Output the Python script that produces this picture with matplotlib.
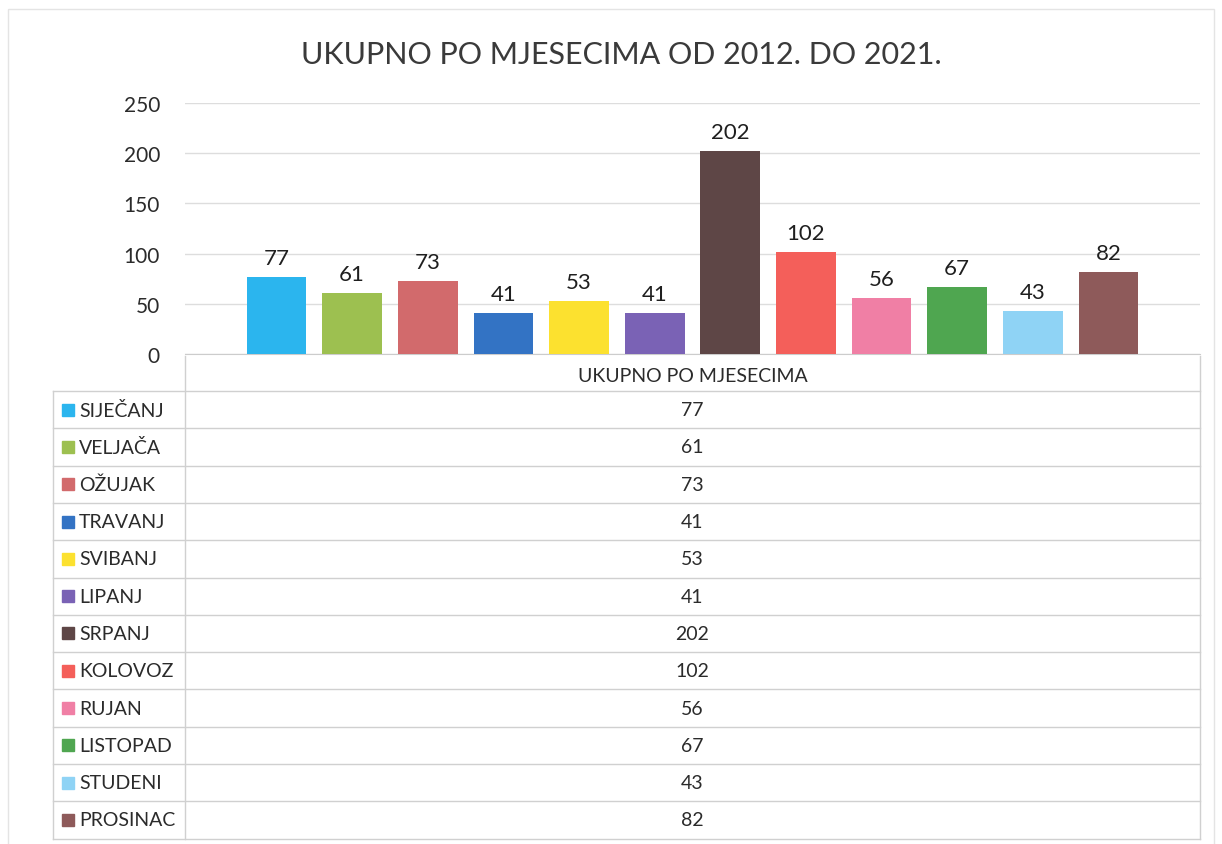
import matplotlib.pyplot as plt
from matplotlib.patches import Rectangle
import numpy as np

plt.rcParams['font.family'] = ['Lato', 'DejaVu Sans']

months = ['SIJEČANJ', 'VELJAČA', 'OŽUJAK', 'TRAVANJ', 'SVIBANJ', 'LIPANJ',
          'SRPANJ', 'KOLOVOZ', 'RUJAN', 'LISTOPAD', 'STUDENI', 'PROSINAC']
values = [77, 61, 73, 41, 53, 41, 202, 102, 56, 67, 43, 82]
colors = ['#2BB5EE', '#9DC050', '#D26A6C', '#3373C4', '#FCE12F', '#7A62B5',
          '#5E4646', '#F45F5A', '#F07FA5', '#4FA650', '#8FD3F5', '#8E5A5A']
series_name = 'UKUPNO PO MJESECIMA'
title = 'UKUPNO PO MJESECIMA OD 2012. DO 2021.'
yticks = [0, 50, 100, 150, 200, 250]

W, H = 1222, 845
fig = plt.figure(figsize=(W / 100, H / 100), dpi=100)
fig.patch.set_facecolor('white')

# chart area (pixel layout)
x0, x1, ytop, ybot = 185, 1200, 104, 355
ax = fig.add_axes([x0 / W, 1 - ybot / H, (x1 - x0) / W, (ybot - ytop) / H])
x = np.arange(len(values))
ax.bar(x, values, width=0.79, color=colors, zorder=3)
ax.set_xlim(-1.21, 12.21)
ax.set_ylim(0, 250)
ax.set_yticks(yticks)
ax.tick_params(axis='y', length=0, pad=18, labelsize=15, labelcolor='#2b2b2b')
ax.set_xticks([])
ax.grid(axis='y', color='#DDDDDD', linewidth=1, zorder=0)
for s in ['top', 'right', 'left']:
    ax.spines[s].set_visible(False)
ax.spines['bottom'].set_color('#CCCCCC')
for xi, v in zip(x, values):
    ax.text(xi, v + 9, str(v), ha='center', va='bottom', fontsize=16, color='#1f1f1f')

# title
fig.text(621 / W, 1 - 55 / H, title, ha='center', va='center', fontsize=22, color='#3a3a3a')

# data table drawn in pixel coords
tb = fig.add_axes([0, 0, 1, 1], zorder=-1)
tb.set_xlim(0, W)
tb.set_ylim(H, 0)
tb.axis('off')
tb.patch.set_alpha(0)

lc = '#D0D0D0'
tl, row_h, hdr_top = 53, 37.3, 357
first = hdr_top + 35
n = len(months)
bottom = first + n * row_h
# header cell
tb.plot([x0, x0], [hdr_top, bottom], color=lc, lw=1)
tb.plot([x1, x1], [hdr_top, bottom], color=lc, lw=1)
tb.plot([tl, tl], [first, bottom], color=lc, lw=1)
tb.text((x0 + x1) / 2, (hdr_top + first) / 2 + 2, series_name, ha='center', va='center',
        fontsize=14, color='#2b2b2b')
for i in range(n + 1):
    yy = first + i * row_h
    tb.plot([tl, x1], [yy, yy], color=lc, lw=1)
for i, (m, v, c) in enumerate(zip(months, values, colors)):
    yc = first + (i + 0.5) * row_h
    tb.add_patch(Rectangle((62, yc - 6), 12, 12, color=c))
    tb.text(79, yc, m, ha='left', va='center', fontsize=14, color='#2b2b2b')
    tb.text((x0 + x1) / 2, yc, str(v), ha='center', va='center', fontsize=14, color='#2b2b2b')

# outer chart frame
tb.add_patch(Rectangle((8, 10), W - 16, H - 8, fill=False, edgecolor='#E4E4E4', lw=1))

fig.savefig('out.png', dpi=100, facecolor='white')
